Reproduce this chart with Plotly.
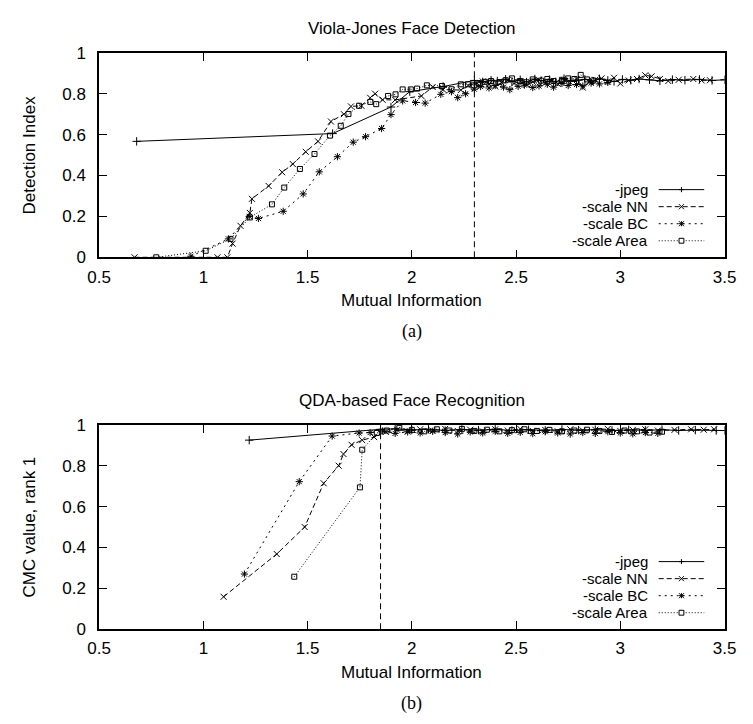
import plotly.graph_objects as go

# ---------------- data ----------------
# (a) Viola-Jones Face Detection
a_jpeg_x = [0.68, 1.62, 1.90, 1.99, 2.15, 2.30, 2.34, 2.38, 2.41, 2.45, 2.48, 2.52, 2.55, 2.59, 2.62,
            2.66, 2.69, 2.73, 2.76, 2.80, 2.83, 2.87, 2.90, 2.94, 2.97, 3.01, 3.05, 3.09, 3.14, 3.19,
            3.25, 3.31, 3.38, 3.44, 3.50]
a_jpeg_y = [0.567, 0.605, 0.735, 0.810, 0.835, 0.865, 0.858, 0.866, 0.862, 0.871, 0.860, 0.868, 0.857,
            0.872, 0.864, 0.869, 0.858, 0.874, 0.862, 0.866, 0.870, 0.861, 0.873, 0.865, 0.860, 0.870,
            0.866, 0.872, 0.868, 0.863, 0.869, 0.866, 0.870, 0.865, 0.868]

a_nn_x = [0.67, 1.068, 1.115, 1.14, 1.178, 1.223, 1.233, 1.313, 1.378, 1.429, 1.491, 1.55, 1.612, 1.674,
          1.708, 1.758, 1.80, 1.824, 1.86, 1.92, 2.046, 2.10, 2.15, 2.235, 2.27, 2.31, 2.34, 2.37, 2.40,
          2.43, 2.46, 2.49, 2.52, 2.55, 2.58, 2.61, 2.64, 2.67, 2.70, 2.73, 2.76, 2.79, 2.82, 2.85, 2.88,
          2.91, 2.94, 2.97, 3.00, 3.04, 3.08, 3.12, 3.15, 3.19, 3.23, 3.28, 3.35, 3.39, 3.43]
a_nn_y = [0.0, 0.0, 0.0, 0.067, 0.154, 0.217, 0.286, 0.349, 0.416, 0.456, 0.516, 0.567, 0.664, 0.700,
          0.738, 0.741, 0.780, 0.800, 0.770, 0.770, 0.789, 0.833, 0.820, 0.818, 0.840, 0.852, 0.860,
          0.848, 0.835, 0.855, 0.866, 0.850, 0.860, 0.843, 0.858, 0.868, 0.852, 0.862, 0.848, 0.866,
          0.855, 0.872, 0.830, 0.858, 0.868, 0.875, 0.860, 0.878, 0.850, 0.865, 0.872, 0.890, 0.885,
          0.872, 0.862, 0.868, 0.872, 0.865, 0.866]

a_bc_x = [0.94, 1.12, 1.22, 1.264, 1.383, 1.479, 1.556, 1.643, 1.719, 1.778, 1.855, 1.90, 1.956, 2.018,
          2.064, 2.139, 2.19, 2.22, 2.258, 2.30, 2.33, 2.37, 2.40, 2.44, 2.47, 2.51, 2.54, 2.58, 2.61,
          2.65, 2.68, 2.72, 2.75, 2.79, 2.82, 2.86, 2.90, 2.94]
a_bc_y = [0.005, 0.09, 0.20, 0.19, 0.225, 0.31, 0.418, 0.492, 0.563, 0.590, 0.630, 0.698, 0.765, 0.757,
          0.754, 0.797, 0.810, 0.781, 0.800, 0.822, 0.835, 0.828, 0.840, 0.832, 0.820, 0.836, 0.842,
          0.830, 0.838, 0.846, 0.832, 0.850, 0.840, 0.845, 0.838, 0.852, 0.848, 0.855]

a_area_x = [0.774, 1.011, 1.13, 1.223, 1.329, 1.388, 1.463, 1.533, 1.607, 1.659, 1.696, 1.747, 1.801,
            1.829, 1.886, 1.922, 1.956, 1.995, 2.025, 2.072, 2.145, 2.19, 2.235, 2.269, 2.297, 2.32,
            2.35, 2.38, 2.42, 2.45, 2.48, 2.52, 2.55, 2.58, 2.62, 2.65, 2.68, 2.72, 2.75, 2.78, 2.81,
            2.84, 2.87]
a_area_y = [0.0, 0.032, 0.09, 0.195, 0.259, 0.341, 0.432, 0.505, 0.595, 0.643, 0.701, 0.741, 0.760,
            0.749, 0.789, 0.797, 0.821, 0.821, 0.825, 0.841, 0.838, 0.822, 0.846, 0.846, 0.841, 0.852,
            0.858, 0.862, 0.857, 0.866, 0.875, 0.862, 0.856, 0.870, 0.864, 0.872, 0.862, 0.868, 0.875,
            0.872, 0.892, 0.870, 0.865]

# (b) QDA-based Face Recognition
b_jpeg_x = [1.22, 1.85, 1.92, 2.00, 2.08, 2.16, 2.24, 2.32, 2.40, 2.48, 2.56, 2.64, 2.72, 2.80, 2.88,
            2.96, 3.04, 3.12, 3.20, 3.28, 3.36, 3.46, 3.50]
b_jpeg_y = [0.925, 0.978, 0.980, 0.975, 0.978, 0.972, 0.977, 0.974, 0.978, 0.972, 0.976, 0.973, 0.977,
            0.974, 0.976, 0.972, 0.975, 0.973, 0.976, 0.972, 0.974, 0.972, 0.972]

b_nn_x = [1.097, 1.352, 1.486, 1.577, 1.649, 1.672, 1.711, 1.762, 1.819, 1.875, 1.93, 1.98, 2.04, 2.10,
          2.16, 2.22, 2.28, 2.34, 2.40, 2.46, 2.52, 2.58, 2.64, 2.70, 2.76, 2.82, 2.88, 2.94, 3.00,
          3.06, 3.12, 3.18, 3.26, 3.34, 3.40, 3.45]
b_nn_y = [0.159, 0.368, 0.500, 0.714, 0.800, 0.857, 0.902, 0.925, 0.940, 0.965, 0.975, 0.968, 0.978,
          0.972, 0.980, 0.970, 0.976, 0.968, 0.978, 0.972, 0.980, 0.970, 0.975, 0.968, 0.978, 0.972,
          0.976, 0.980, 0.970, 0.975, 0.978, 0.972, 0.975, 0.978, 0.976, 0.978]

b_bc_x = [1.197, 1.46, 1.618, 1.747, 1.80, 1.86, 1.92, 1.98, 2.04, 2.10, 2.16, 2.22, 2.28, 2.34, 2.40,
          2.46, 2.52, 2.58, 2.64, 2.70, 2.76, 2.82, 2.88, 2.94, 3.00, 3.06, 3.12, 3.18]
b_bc_y = [0.270, 0.722, 0.945, 0.960, 0.962, 0.970, 0.958, 0.965, 0.960, 0.968, 0.962, 0.955, 0.965,
          0.960, 0.968, 0.958, 0.963, 0.957, 0.966, 0.960, 0.955, 0.962, 0.958, 0.966, 0.960, 0.956,
          0.962, 0.958]

b_area_x = [1.436, 1.751, 1.762, 1.832, 1.88, 1.94, 2.00, 2.06, 2.12, 2.18, 2.24, 2.30, 2.36, 2.42, 2.48,
            2.54, 2.60, 2.66, 2.72, 2.78, 2.84, 2.90, 2.96, 3.02, 3.08, 3.14, 3.20]
b_area_y = [0.257, 0.694, 0.878, 0.960, 0.972, 0.985, 0.975, 0.968, 0.978, 0.972, 0.980, 0.970, 0.976,
            0.968, 0.974, 0.978, 0.970, 0.975, 0.968, 0.972, 0.976, 0.970, 0.965, 0.972, 0.968, 0.962,
            0.966]

thresholds = [2.30, 1.85]

series_names = ["-jpeg", "-scale NN", "-scale BC", "-scale Area"]
titles = ["Viola-Jones Face Detection", "QDA-based Face Recognition"]
y_titles = ["Detection Index", "CMC value, rank 1"]
x_title = "Mutual Information"
captions = ["(a)", "(b)"]
x_tickvals = [0.5, 1, 1.5, 2, 2.5, 3, 3.5]
x_ticktext = ["0.5", "1", "1.5", "2", "2.5", "3", "3.5"]
y_tickvals = [0, 0.2, 0.4, 0.6, 0.8, 1]
y_ticktext = ["0", "0.2", "0.4", "0.6", "0.8", "1"]

# ---------------- styling ----------------
W, H = 753, 724
FONT = "Liberation Sans, Arial, Helvetica, sans-serif"
SERIF = "Liberation Serif, DejaVu Serif, serif"
FS = 17
LEG_FS = 15
dashes = ["solid", "5px,3px", "2px,4px", "1px,2px"]
symbols = ["cross-thin", "x-thin", "asterisk", "square-open"]
msizes = [6, 6, 6, 5]

PLOT_L, PLOT_R = 90, 736
PANELS = [(45, 255), (427, 637)]  # (top px, bottom px)


def px(xp):
    return xp / W


def py(yp):
    return 1 - yp / H


fig = go.Figure()

panel_data = [
    [(a_jpeg_x, a_jpeg_y), (a_nn_x, a_nn_y), (a_bc_x, a_bc_y), (a_area_x, a_area_y)],
    [(b_jpeg_x, b_jpeg_y), (b_nn_x, b_nn_y), (b_bc_x, b_bc_y), (b_area_x, b_area_y)],
]

for p, series in enumerate(panel_data):
    xa = "x" if p == 0 else "x2"
    ya = "y" if p == 0 else "y2"
    fig.add_trace(go.Scatter(x=[thresholds[p], thresholds[p]], y=[0, 1], xaxis=xa, yaxis=ya,
                             mode="lines", line=dict(color="black", width=1, dash="6px,4px"),
                             showlegend=False, hoverinfo="skip"))
    for i, (xs, ys) in enumerate(series):
        fig.add_trace(go.Scatter(
            x=xs, y=ys, xaxis=xa, yaxis=ya, mode="lines+markers", name=series_names[i],
            showlegend=False,
            line=dict(color="black", width=1, dash=dashes[i]),
            marker=dict(symbol=symbols[i], size=msizes[i], color="black",
                        line=dict(color="black", width=1)),
        ))

axis_common = dict(showline=True, linecolor="black", linewidth=1.6, mirror="allticks",
                   ticks="inside", ticklen=8, tickwidth=1.4, tickcolor="black",
                   showgrid=False, zeroline=False,
                   tickfont=dict(family=FONT, size=FS, color="black"))

for p, (top, bot) in enumerate(PANELS):
    sx = "" if p == 0 else "2"
    fig.layout["xaxis" + sx] = dict(axis_common, domain=[px(PLOT_L), px(PLOT_R)], range=[0.5, 3.5],
                                    anchor="y" + sx, tickvals=x_tickvals, ticktext=x_ticktext,
                                    ticklabelstandoff=3)
    fig.layout["yaxis" + sx] = dict(axis_common, domain=[py(bot), py(top)], range=[0, 1],
                                    anchor="x" + sx, tickvals=y_tickvals, ticktext=y_ticktext,
                                    ticklabelstandoff=8)

annotations = []
shapes = []
for p, (top, bot) in enumerate(PANELS):
    cx = (PLOT_L + PLOT_R) / 2
    annotations.append(dict(text=titles[p], x=px(cx), y=py(top - 25), xref="paper", yref="paper",
                            showarrow=False, xanchor="center", yanchor="middle",
                            font=dict(family=FONT, size=FS, color="black")))
    annotations.append(dict(text=x_title, x=px(cx), y=py(bot + 44), xref="paper", yref="paper",
                            showarrow=False, xanchor="center", yanchor="middle",
                            font=dict(family=FONT, size=FS, color="black")))
    annotations.append(dict(text=captions[p], x=px(cx), y=py(bot + 76), xref="paper", yref="paper",
                            showarrow=False, xanchor="center", yanchor="middle",
                            font=dict(family=SERIF, size=18, color="black")))
    annotations.append(dict(text=y_titles[p], x=px(18), y=py((top + bot) / 2), xref="paper",
                            yref="paper", showarrow=False, xanchor="center", yanchor="middle",
                            textangle=-90, font=dict(family=FONT, size=FS, color="black")))

    # legend (text on the left, sample on the right, like gnuplot)
    rows = [bot - 69.5, bot - 52, bot - 34.5, bot - 17]
    for i, name in enumerate(series_names):
        ry = rows[i]
        annotations.append(dict(text=name, x=px(658), y=py(ry), xref="paper", yref="paper",
                                showarrow=False, xanchor="right", yanchor="middle",
                                borderpad=0,
                                font=dict(family=FONT, size=LEG_FS, color="black")))
        shapes.append(dict(type="line", xref="paper", yref="paper", x0=px(668), x1=px(715),
                           y0=py(ry), y1=py(ry), line=dict(color="black", width=1, dash=dashes[i])))
        mx, my, r = 691.5, ry, 2.6
        segs = []
        if symbols[i] == "cross-thin":
            segs = [(-r, 0, r, 0), (0, -r, 0, r)]
        elif symbols[i] == "x-thin":
            segs = [(-r, -r, r, r), (-r, r, r, -r)]
        elif symbols[i] == "asterisk":
            segs = [(-r, 0, r, 0), (0, -r, 0, r), (-r, -r, r, r), (-r, r, r, -r)]
        for (a0, b0, a1, b1) in segs:
            shapes.append(dict(type="line", xref="paper", yref="paper",
                               x0=px(mx + a0), x1=px(mx + a1), y0=py(my + b0), y1=py(my + b1),
                               line=dict(color="black", width=1)))
        if symbols[i] == "square-open":
            shapes.append(dict(type="rect", xref="paper", yref="paper",
                               x0=px(mx - 2.5), x1=px(mx + 2.5), y0=py(my - 2.5), y1=py(my + 2.5),
                               line=dict(color="black", width=1), fillcolor="white"))

fig.update_layout(width=W, height=H, autosize=False, margin=dict(l=0, r=0, t=0, b=0),
                  paper_bgcolor="white", plot_bgcolor="white", showlegend=False,
                  annotations=annotations, shapes=shapes,
                  font=dict(family=FONT, size=FS, color="black"))

fig.write_html("out.html", config={"displayModeBar": False},
               post_script="document.body.style.margin='0';document.body.style.overflow='hidden';")
